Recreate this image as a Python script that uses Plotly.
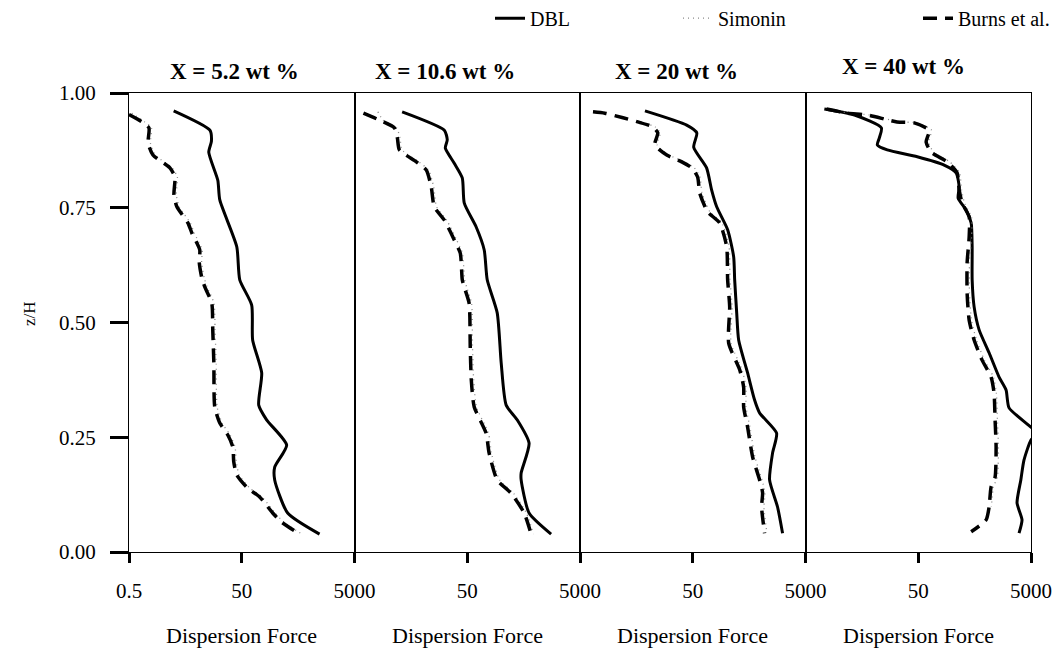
import math
import plotly.graph_objects as go
from plotly.subplots import make_subplots

panel_titles = ["X = 5.2 wt %", "X = 10.6 wt %", "X = 20 wt %", "X = 40 wt %"]
series_names = ["DBL", "Simonin", "Burns et al."]
x_tickvals = [0.5, 50, 5000]
y_tickvals = [0.0, 0.25, 0.5, 0.75, 1.0]

# ---- Panel 1 : X = 5.2 wt % ----
z_dbl_1 = [0.961, 0.919, 0.895, 0.871, 0.810, 0.767, 0.665, 0.593, 0.538, 0.462, 0.390, 0.320, 0.288, 0.233, 0.185, 0.157, 0.085, 0.039]
f_dbl_1 = [3.1, 13.6, 14.5, 13.0, 18.8, 20.4, 40.8, 46.1, 75, 78, 113, 100, 138, 313, 192, 192, 326, 1200]
z_brn_1 = [0.953, 0.937, 0.924, 0.891, 0.865, 0.837, 0.817, 0.778, 0.752, 0.717, 0.695, 0.658, 0.632, 0.597, 0.577, 0.542, 0.484, 0.412, 0.316, 0.281, 0.255, 0.229, 0.196, 0.168, 0.139, 0.120, 0.085, 0.065, 0.039]
f_brn_1 = [0.5, 0.85, 1.13, 1.09, 1.33, 2.66, 3.26, 3.13, 3.54, 5.54, 6.52, 9.0, 8.8, 9.8, 11.1, 14.7, 15.3, 16.0, 16.6, 20.4, 28.3, 34.7, 36.1, 40.8, 64, 104, 177, 255, 532]
z_sim_1 = [0.956, 0.937, 0.924, 0.891, 0.865, 0.837, 0.817, 0.778, 0.752, 0.717, 0.695, 0.658, 0.632, 0.597, 0.577, 0.542, 0.484, 0.412, 0.316, 0.281, 0.255, 0.229, 0.196, 0.168, 0.139, 0.120, 0.085, 0.065, 0.039]
f_sim_1 = [0.56, 0.95, 1.25, 1.2, 1.45, 2.9, 3.6, 3.45, 3.9, 6.1, 7.2, 9.9, 9.7, 10.8, 12.2, 16.1, 16.8, 17.6, 18.3, 22.4, 31, 38, 40, 45, 70, 114, 195, 280, 585]

# ---- Panel 2 : X = 10.6 wt % ----
z_dbl_2 = [0.959, 0.919, 0.898, 0.880, 0.847, 0.815, 0.760, 0.708, 0.658, 0.593, 0.521, 0.412, 0.320, 0.288, 0.237, 0.172, 0.157, 0.085, 0.039]
f_dbl_2 = [3.5, 19.6, 22.1, 20.4, 29.4, 40.8, 44.3, 72, 100, 113, 170, 200, 245, 384, 625, 452, 452, 625, 1535]
z_brn_2 = [0.956, 0.941, 0.924, 0.902, 0.876, 0.850, 0.832, 0.795, 0.752, 0.723, 0.680, 0.651, 0.593, 0.577, 0.542, 0.447, 0.375, 0.316, 0.259, 0.216, 0.157, 0.128, 0.085, 0.039]
f_brn_2 = [0.72, 1.38, 2.55, 2.88, 3.13, 6.26, 9.4, 11.5, 13.0, 19.6, 29.4, 37.6, 40.8, 44.3, 54, 56.5, 59, 66.5, 108, 122, 170, 300, 510, 679]
z_sim_2 = [0.959, 0.941, 0.924, 0.902, 0.876, 0.850, 0.832, 0.795, 0.752, 0.723, 0.680, 0.651, 0.593, 0.577, 0.542, 0.447, 0.375, 0.316, 0.259, 0.216, 0.157, 0.128, 0.085, 0.039]
f_sim_2 = [1.3, 1.6, 2.8, 3.2, 3.5, 6.9, 10.3, 12.7, 14.3, 21.6, 32.3, 41, 45, 48.8, 59.5, 62, 65, 73, 119, 134, 187, 330, 560, 745]

# ---- Panel 3 : X = 20 wt % ----
z_dbl_3 = [0.961, 0.930, 0.913, 0.882, 0.837, 0.789, 0.752, 0.702, 0.643, 0.593, 0.521, 0.462, 0.390, 0.331, 0.303, 0.259, 0.216, 0.157, 0.098, 0.041]
f_dbl_3 = [7.1, 39, 59, 52, 88, 108, 133, 208, 266, 277, 301, 326, 470, 625, 767, 1535, 1304, 1153, 1597, 1960]
z_brn_3 = [0.959, 0.956, 0.946, 0.937, 0.926, 0.913, 0.887, 0.865, 0.850, 0.837, 0.817, 0.782, 0.741, 0.717, 0.665, 0.593, 0.534, 0.455, 0.397, 0.359, 0.316, 0.272, 0.207, 0.157, 0.129, 0.098, 0.041]
f_brn_3 = [0.85, 1.38, 2.9, 5.3, 9.8, 12.0, 10.6, 17.3, 31.9, 48, 61, 66.5, 92, 150, 200, 208, 226, 217, 340, 400, 400, 470, 577, 767, 867, 832, 940]
z_sim_3 = [0.937, 0.926, 0.913, 0.887, 0.865, 0.850, 0.837, 0.817, 0.782, 0.741, 0.717, 0.665, 0.593, 0.534, 0.455, 0.397, 0.359, 0.316, 0.272, 0.207, 0.157, 0.129, 0.098, 0.041]
f_sim_3 = [6.0, 10.8, 13.2, 11.7, 19.0, 35, 53, 67, 73, 101, 165, 220, 229, 249, 239, 374, 440, 440, 517, 635, 845, 955, 915, 1035]

# ---- Panel 4 : X = 40 wt % ----
z_dbl_4 = [0.965, 0.952, 0.924, 0.902, 0.887, 0.876, 0.861, 0.843, 0.826, 0.795, 0.771, 0.745, 0.717, 0.665, 0.593, 0.534, 0.484, 0.434, 0.381, 0.353, 0.314, 0.272, 0.258, 0.244, 0.200, 0.157, 0.107, 0.070, 0.041]
f_dbl_4 = [1.08, 3.7, 11.1, 10.2, 9.4, 14.1, 48, 144, 235, 266, 255, 354, 434, 452, 452, 490, 601, 903, 1358, 1806, 2041, 5000, 6500, 5000, 3750, 3300, 2826, 3466, 3069]
z_brn_4 = [0.965, 0.956, 0.952, 0.937, 0.935, 0.919, 0.893, 0.871, 0.850, 0.826, 0.789, 0.760, 0.730, 0.686, 0.630, 0.564, 0.505, 0.462, 0.418, 0.381, 0.346, 0.288, 0.229, 0.163, 0.142, 0.098, 0.070, 0.044]
f_brn_4 = [1.18, 2.77, 6.3, 21, 42.5, 78, 69, 85, 163, 245, 266, 301, 400, 400, 368, 368, 400, 490, 679, 980, 1106, 1153, 1202, 1153, 980, 903, 800, 434]
z_sim_4 = [0.965, 0.956, 0.952, 0.937, 0.935, 0.919, 0.893, 0.871, 0.850, 0.826, 0.789, 0.760, 0.730, 0.686, 0.630, 0.564, 0.505, 0.462, 0.418, 0.381, 0.346, 0.288, 0.229, 0.163, 0.142, 0.098]
f_sim_4 = [1.3, 3.0, 6.9, 23, 47, 86, 76, 94, 180, 270, 293, 331, 440, 440, 405, 405, 440, 540, 747, 1078, 1217, 1268, 1322, 1268, 1078, 993]

panels = [
    (z_dbl_1, f_dbl_1, z_sim_1, f_sim_1, z_brn_1, f_brn_1),
    (z_dbl_2, f_dbl_2, z_sim_2, f_sim_2, z_brn_2, f_brn_2),
    (z_dbl_3, f_dbl_3, z_sim_3, f_sim_3, z_brn_3, f_brn_3),
    (z_dbl_4, f_dbl_4, z_sim_4, f_sim_4, z_brn_4, f_brn_4),
]

FONT = "'Liberation Serif', 'Times New Roman', Times, serif"
styles = [
    dict(color="black", width=3),
    dict(color="#8a8a8a", width=1.3, dash="1px,4px"),
    dict(color="black", width=3.5, dash="14px,8px"),
]
legend_ids = ["legend", "legend2", "legend3"]

fig = make_subplots(rows=1, cols=4, horizontal_spacing=0)

for i, p in enumerate(panels):
    col = i + 1
    pairs = [(p[0], p[1]), (p[2], p[3]), (p[4], p[5])]
    for s, (zz, ff) in enumerate(pairs):
        fig.add_trace(go.Scatter(
            x=ff, y=zz, mode="lines", name=series_names[s],
            line=dict(shape="spline", smoothing=0.6, **styles[s]),
            showlegend=(i == 0), legend=legend_ids[s],
        ), row=1, col=col)

lx = math.log10(0.5)
hx = math.log10(5000)
for i in range(4):
    col = i + 1
    fig.update_xaxes(
        type="log", range=[lx, hx], tickvals=x_tickvals,
        ticktext=["0.5", "50", "5000"] if i == 0 else ["", "50", "5000"],
        ticks="outside", ticklen=10, tickwidth=3, tickcolor="black",
        showline=True, linecolor="black", linewidth=1.2, mirror=True,
        showgrid=False, zeroline=False, ticklabelstandoff=10,
        tickfont=dict(family=FONT, size=21, color="black"),
        row=1, col=col)
    fig.update_yaxes(
        range=[0, 1], tickvals=y_tickvals, tickformat=".2f",
        ticks="outside" if i == 0 else "", ticklen=18, tickwidth=3, tickcolor="black",
        showticklabels=(i == 0), ticklabelstandoff=10,
        showline=True, linecolor="black", linewidth=1.2, mirror=True,
        showgrid=False, zeroline=False,
        tickfont=dict(family=FONT, size=21, color="black"),
        row=1, col=col)

title_shift = [-7, -22, -16, -15]
title_y = [1.046, 1.046, 1.046, 1.057]
annotations = []
for i, t in enumerate(panel_titles):
    xd = "x domain" if i == 0 else f"x{i+1} domain"
    annotations.append(dict(text=f"<b>{t}</b>", xref=xd, yref="paper", x=0.5, y=title_y[i],
                            xshift=title_shift[i], showarrow=False, xanchor="center", yanchor="middle",
                            font=dict(family=FONT, size=23, color="black")))
    annotations.append(dict(text="Dispersion Force", xref=xd, yref="paper", x=0.5, y=-0.183,
                            showarrow=False, xanchor="center", yanchor="middle",
                            font=dict(family=FONT, size=22, color="black")))
annotations.append(dict(text="z/H", xref="paper", yref="paper", x=-0.110, y=0.52, textangle=-90,
                        showarrow=False, xanchor="center", yanchor="middle",
                        font=dict(family=FONT, size=17, color="black")))

leg_common = dict(orientation="h", yanchor="middle", y=1.163, xanchor="left",
                  bgcolor="rgba(0,0,0,0)", font=dict(family=FONT, size=20, color="black"))
fig.update_layout(
    width=1063, height=654,
    font=dict(family=FONT, color="black"),
    margin=dict(l=129, r=32, t=93, b=102, autoexpand=False),
    paper_bgcolor="white", plot_bgcolor="white",
    annotations=annotations,
    legend=dict(x=(490 - 129) / 902, **leg_common),
    legend2=dict(x=(678 - 129) / 902, **leg_common),
    legend3=dict(x=(918 - 129) / 902, **leg_common),
)

fig.write_html("out.html")
